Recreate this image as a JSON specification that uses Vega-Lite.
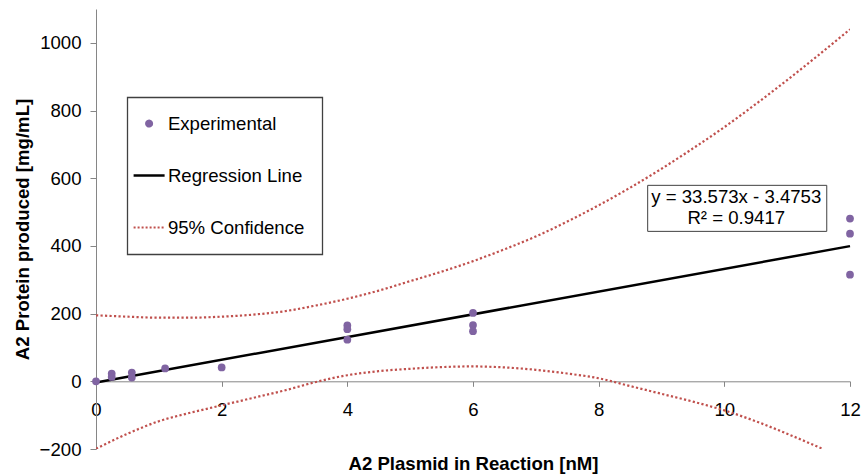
{
  "$schema": "https://vega.github.io/schema/vega-lite/v6.json",
  "width": 754,
  "height": 440,
  "autosize": "none",
  "padding": {"left": 96, "top": 9, "right": 15, "bottom": 25},
  "background": "white",
  "config": {
    "font": "Liberation Sans",
    "view": {"stroke": null},
    "axis": {"grid": false}
  },
  "datasets": {
    "exp": [
      {"x": 0, "y": 0, "series": "Experimental"},
      {"x": 0.25, "y": 23, "series": "Experimental"},
      {"x": 0.25, "y": 13, "series": "Experimental"},
      {"x": 0.57, "y": 26, "series": "Experimental"},
      {"x": 0.57, "y": 11, "series": "Experimental"},
      {"x": 1.1, "y": 38, "series": "Experimental"},
      {"x": 2, "y": 41, "series": "Experimental"},
      {"x": 4, "y": 165, "series": "Experimental"},
      {"x": 4, "y": 154, "series": "Experimental"},
      {"x": 4, "y": 123, "series": "Experimental"},
      {"x": 6, "y": 202, "series": "Experimental"},
      {"x": 6, "y": 166, "series": "Experimental"},
      {"x": 6, "y": 148, "series": "Experimental"},
      {"x": 12, "y": 481, "series": "Experimental"},
      {"x": 12, "y": 436, "series": "Experimental"},
      {"x": 12, "y": 315, "series": "Experimental"}
    ],
    "reg": [
      {"x": 0, "y": -3.48, "series": "Regression Line"},
      {"x": 12, "y": 399.4, "series": "Regression Line"}
    ],
    "conf": [
      {"x": 0, "y": 195, "bound": "upper", "series": "95% Confidence"},
      {"x": 0.5, "y": 191, "bound": "upper", "series": "95% Confidence"},
      {"x": 1, "y": 188, "bound": "upper", "series": "95% Confidence"},
      {"x": 1.5, "y": 188, "bound": "upper", "series": "95% Confidence"},
      {"x": 2, "y": 191, "bound": "upper", "series": "95% Confidence"},
      {"x": 2.5, "y": 197, "bound": "upper", "series": "95% Confidence"},
      {"x": 3, "y": 207, "bound": "upper", "series": "95% Confidence"},
      {"x": 3.5, "y": 224, "bound": "upper", "series": "95% Confidence"},
      {"x": 4, "y": 244, "bound": "upper", "series": "95% Confidence"},
      {"x": 4.5, "y": 268, "bound": "upper", "series": "95% Confidence"},
      {"x": 5, "y": 296, "bound": "upper", "series": "95% Confidence"},
      {"x": 5.5, "y": 324, "bound": "upper", "series": "95% Confidence"},
      {"x": 6, "y": 355, "bound": "upper", "series": "95% Confidence"},
      {"x": 6.5, "y": 390, "bound": "upper", "series": "95% Confidence"},
      {"x": 7, "y": 428, "bound": "upper", "series": "95% Confidence"},
      {"x": 7.5, "y": 472, "bound": "upper", "series": "95% Confidence"},
      {"x": 8, "y": 520, "bound": "upper", "series": "95% Confidence"},
      {"x": 8.5, "y": 572, "bound": "upper", "series": "95% Confidence"},
      {"x": 9, "y": 628, "bound": "upper", "series": "95% Confidence"},
      {"x": 9.5, "y": 688, "bound": "upper", "series": "95% Confidence"},
      {"x": 10, "y": 751, "bound": "upper", "series": "95% Confidence"},
      {"x": 10.5, "y": 819, "bound": "upper", "series": "95% Confidence"},
      {"x": 11, "y": 890, "bound": "upper", "series": "95% Confidence"},
      {"x": 11.5, "y": 964, "bound": "upper", "series": "95% Confidence"},
      {"x": 12, "y": 1040, "bound": "upper", "series": "95% Confidence"},
      {"x": 0, "y": -199, "bound": "lower", "series": "95% Confidence"},
      {"x": 0.5, "y": -155, "bound": "lower", "series": "95% Confidence"},
      {"x": 1, "y": -118, "bound": "lower", "series": "95% Confidence"},
      {"x": 1.5, "y": -93, "bound": "lower", "series": "95% Confidence"},
      {"x": 2, "y": -71, "bound": "lower", "series": "95% Confidence"},
      {"x": 2.5, "y": -49, "bound": "lower", "series": "95% Confidence"},
      {"x": 3, "y": -27, "bound": "lower", "series": "95% Confidence"},
      {"x": 3.5, "y": -2, "bound": "lower", "series": "95% Confidence"},
      {"x": 4, "y": 18, "bound": "lower", "series": "95% Confidence"},
      {"x": 4.5, "y": 30, "bound": "lower", "series": "95% Confidence"},
      {"x": 5, "y": 37, "bound": "lower", "series": "95% Confidence"},
      {"x": 5.5, "y": 42, "bound": "lower", "series": "95% Confidence"},
      {"x": 6, "y": 44, "bound": "lower", "series": "95% Confidence"},
      {"x": 6.5, "y": 41, "bound": "lower", "series": "95% Confidence"},
      {"x": 7, "y": 34, "bound": "lower", "series": "95% Confidence"},
      {"x": 7.5, "y": 23, "bound": "lower", "series": "95% Confidence"},
      {"x": 8, "y": 9, "bound": "lower", "series": "95% Confidence"},
      {"x": 8.5, "y": -14, "bound": "lower", "series": "95% Confidence"},
      {"x": 9, "y": -37, "bound": "lower", "series": "95% Confidence"},
      {"x": 9.5, "y": -60, "bound": "lower", "series": "95% Confidence"},
      {"x": 10, "y": -86, "bound": "lower", "series": "95% Confidence"},
      {"x": 10.5, "y": -118, "bound": "lower", "series": "95% Confidence"},
      {"x": 11, "y": -155, "bound": "lower", "series": "95% Confidence"},
      {"x": 11.57, "y": -200, "bound": "lower", "series": "95% Confidence"}
    ]
  },
  "layer": [
    {
      "data": {"name": "conf"},
      "mark": {"type": "line", "strokeDash": [2.2, 2.3], "strokeWidth": 2.2, "clip": true, "interpolate": "monotone"},
      "encoding": {
        "x": {
          "field": "x", "type": "quantitative",
          "scale": {"domain": [0, 12], "nice": false, "zero": false},
          "axis": {
            "title": "A2 Plasmid in Reaction [nM]",
            "values": [0, 2, 4, 6, 8, 10, 12],
            "format": "d",
            "offset": -67.7,
            "domainColor": "#868686",
            "tickColor": "#868686",
            "tickSize": 5,
            "labelPadding": 14,
            "labelFontSize": 18.6,
            "labelColor": "#000000",
            "labelOverlap": false,
            "labelFlush": false,
            "titleFontSize": 18.6,
            "titleFontWeight": "bold",
            "titleColor": "#000000",
            "titleY": 82,
            "titleBaseline": "middle"
          }
        },
        "y": {
          "field": "y", "type": "quantitative",
          "scale": {"domain": [-200, 1100], "nice": false, "zero": false},
          "axis": {
            "title": "A2 Protein produced [mg/mL]",
            "values": [-200, 0, 200, 400, 600, 800, 1000],
            "format": "d",
            "domainColor": "#868686",
            "tickColor": "#868686",
            "tickSize": 6,
            "labelPadding": 9,
            "labelFontSize": 18.6,
            "labelColor": "#000000",
            "labelOverlap": false,
            "labelFlush": false,
            "titleFontSize": 18.6,
            "titleFontWeight": "bold",
            "titleColor": "#000000",
            "titleX": -74,
            "titleBaseline": "middle"
          }
        },
        "color": {
          "field": "series", "type": "nominal",
          "scale": {"domain": ["Experimental", "Regression Line", "95% Confidence"], "range": ["#8064A2", "#000000", "#C0504D"]},
          "legend": {
            "title": null,
            "orient": "none",
            "legendX": 31.3,
            "legendY": 88.3,
            "padding": 17,
            "strokeColor": "#404040",
            "fillColor": "white",
            "labelFontSize": 18.6,
            "labelColor": "#000000",
            "labelOffset": 9.5,
            "symbolOffset": -4.5,
            "symbolSize": 961,
            "rowPadding": 33,
            "encode": {
              "legend": {"update": {"strokeWidth": {"value": 1.3}}},
              "symbols": {
                "update": {
                  "shape": {"signal": "datum.value === 'Experimental' ? 'circle' : 'stroke'"},
                  "size": {"signal": "datum.value === 'Experimental' ? 36 : 961"},
                  "fill": {"signal": "datum.value === 'Experimental' ? '#8064A2' : 'transparent'"},
                  "stroke": {"signal": "datum.value === 'Experimental' ? 'transparent' : (datum.value === 'Regression Line' ? '#000000' : '#C0504D')"},
                  "strokeWidth": {"signal": "datum.value === 'Regression Line' ? 2.5 : 2"},
                  "strokeDash": {"signal": "datum.value === '95% Confidence' ? [2, 2] : [1, 0]"},
                  "opacity": {"value": 1}
                }
              }
            }
          }
        },
        "detail": {"field": "bound", "type": "nominal"}
      }
    },
    {
      "data": {"name": "reg"},
      "mark": {"type": "line", "strokeWidth": 2.5},
      "encoding": {
        "x": {"field": "x", "type": "quantitative"},
        "y": {"field": "y", "type": "quantitative"},
        "color": {"field": "series", "type": "nominal"}
      }
    },
    {
      "data": {"name": "exp"},
      "mark": {"type": "point", "filled": true, "size": 60, "opacity": 1},
      "encoding": {
        "x": {"field": "x", "type": "quantitative"},
        "y": {"field": "y", "type": "quantitative"},
        "color": {"field": "series", "type": "nominal"}
      }
    },
    {
      "data": {"values": [{}]},
      "mark": {"type": "rect", "fill": "white", "stroke": "#404040", "strokeWidth": 1},
      "encoding": {
        "x": {"datum": 8.78, "type": "quantitative"},
        "x2": {"datum": 11.63},
        "y": {"datum": 579, "type": "quantitative"},
        "y2": {"datum": 443}
      }
    },
    {
      "data": {"values": [{}]},
      "mark": {"type": "text", "text": ["y = 33.573x - 3.4753", "R² = 0.9417"], "font": "Liberation Sans", "fontSize": 18.6, "lineHeight": 21.3, "align": "center", "baseline": "middle", "color": "#000000"},
      "encoding": {
        "x": {"datum": 10.19, "type": "quantitative"},
        "y": {"datum": 546, "type": "quantitative"}
      }
    }
  ]
}
